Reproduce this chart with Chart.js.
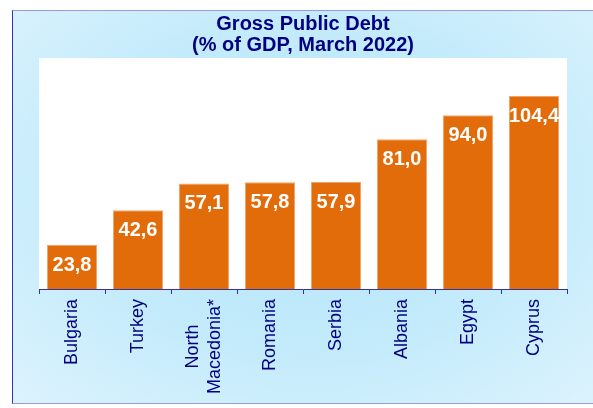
<!DOCTYPE html>
<html>
<head>
<meta charset="utf-8">
<script src="https://cdn.jsdelivr.net/npm/chart.js@4"></script>
<style>
  html, body { margin: 0; padding: 0; background: #fff; }
  #wrap { position: relative; width: 593px; height: 408px; overflow: hidden; }
  #panel {
    position: absolute; left: 12px; top: 10px; width: 590px; height: 392px;
    border-left: 1.5px solid #3434b0; border-top: 1.5px solid #9a9ae0; border-bottom: 1.5px solid #9a9ae0;
    background: radial-gradient(ellipse at 50% 45%, #b2e5fa 0%, #c4ebfb 55%, #dcf3fd 100%);
  }
  #chart { position: absolute; left: 0; top: 0; }
</style>
</head>
<body>
<div id="wrap">
  <div id="panel"></div>
  <canvas id="chart" width="593" height="408"></canvas>
</div>
<script>
// ── Data ──
var countries = [['Bulgaria'], ['Turkey'], ['North', 'Macedonia*'], ['Romania'], ['Serbia'], ['Albania'], ['Egypt'], ['Cyprus']];
var debtPct = [23.8, 42.6, 57.1, 57.8, 57.9, 81.0, 94.0, 104.4];
var titleLines = ['Gross Public Debt', '(% of GDP, March 2022)'];

var FONT = '"Liberation Sans", Arial, sans-serif';
var NAVY = '#000080';

// white plot background
var plotBg = {
    id: 'plotBg',
    beforeDraw: function(chart) {
        var a = chart.chartArea, ctx = chart.ctx;
        ctx.save();
        ctx.fillStyle = '#ffffff';
        ctx.fillRect(a.left, a.top, a.right - a.left, a.bottom - a.top);
        ctx.restore();
    }
};

// value labels inside bars + rotated category labels
var labelsPlugin = {
    id: 'labelsPlugin',
    afterDatasetsDraw: function(chart) {
        var ctx = chart.ctx;
        var meta = chart.getDatasetMeta(0);
        ctx.save();
        ctx.fillStyle = '#ffffff';
        ctx.font = 'bold 20px ' + FONT;
        ctx.textAlign = 'center';
        ctx.textBaseline = 'middle';
        meta.data.forEach(function(bar, i) {
            ctx.fillText(debtPct[i].toFixed(1).replace('.', ','), bar.x, bar.y + 20);
        });
        ctx.restore();
    },
    afterDraw: function(chart) {
        var ctx = chart.ctx, xs = chart.scales.x;
        var lh = 22;
        ctx.save();
        ctx.fillStyle = NAVY;
        ctx.font = '18px ' + FONT;
        ctx.textBaseline = 'middle';
        ctx.textAlign = 'center';
        countries.forEach(function(lines, i) {
            var x = xs.getPixelForValue(i);
            var w = 0;
            lines.forEach(function(l) { w = Math.max(w, ctx.measureText(l).width); });
            ctx.save();
            ctx.translate(x, xs.top + 10);
            ctx.rotate(-Math.PI / 2);
            lines.forEach(function(l, k) {
                ctx.fillText(l, -w / 2, (k - (lines.length - 1) / 2) * lh);
            });
            ctx.restore();
        });
        ctx.restore();
    }
};

new Chart(document.getElementById('chart').getContext('2d'), {
    type: 'bar',
    data: {
        labels: countries.map(function(c) { return c.join(' '); }),
        datasets: [{
            data: debtPct,
            backgroundColor: '#e36c0a',
            borderColor: '#f2a36a',
            borderWidth: 1,
            categoryPercentage: 1,
            barPercentage: 0.76
        }]
    },
    options: {
        responsive: false,
        animation: false,
        layout: { padding: { left: 39, right: 26, top: 0, bottom: 0 } },
        plugins: {
            legend: { display: false },
            tooltip: { enabled: false },
            title: {
                display: true,
                text: titleLines,
                color: NAVY,
                font: { family: FONT, size: 20, weight: 'bold', lineHeight: 1.05 },
                padding: { top: 14, bottom: 2 }
            }
        },
        scales: {
            y: { display: false, min: 0, max: 125 },
            x: {
                afterFit: function(s) { s.height = 119; },
                border: { display: true, color: '#333399', width: 1 },
                grid: { display: true, offset: true, drawOnChartArea: false, drawTicks: true, tickLength: 5, color: '#333399' },
                ticks: { display: false }
            }
        }
    },
    plugins: [plotBg, labelsPlugin]
});
</script>
</body>
</html>
